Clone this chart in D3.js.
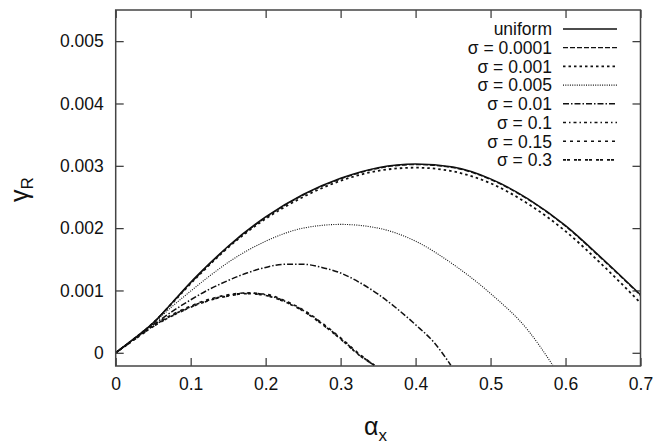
<!DOCTYPE html>
<html><head><meta charset="utf-8">
<script src="https://cdn.jsdelivr.net/npm/d3@7"></script>
<style>body{margin:0;background:#fff}svg{display:block}text{font-family:"Liberation Sans",Arial,sans-serif;fill:#111}</style>
</head><body><div id="chart"></div>
<script>
// ---- data ----
const seriesNames = ["uniform","σ = 0.0001","σ = 0.001","σ = 0.005","σ = 0.01","σ = 0.1","σ = 0.15","σ = 0.3"];
const xTicks = [0,0.1,0.2,0.3,0.4,0.5,0.6,0.7];
const yTicks = [0,0.001,0.002,0.003,0.004,0.005];
const alphaTop = [0,0.025,0.05,0.075,0.1,0.125,0.15,0.2,0.25,0.3,0.35,0.4,0.45,0.5,0.55,0.6,0.65,0.7];
const uniform   = [0,0.00023,0.00048,0.0008,0.00113,0.00143,0.00171,0.00218,0.00254,0.0028,0.00297,0.00303,0.00298,0.00279,0.00247,0.00204,0.0015,0.00093];
const s0001     = [0,0.00023,0.00048,0.0008,0.00112,0.00142,0.0017,0.00217,0.00253,0.00279,0.00296,0.00302,0.00297,0.00278,0.00246,0.00203,0.00149,0.00092];
const s001      = [0,0.00023,0.00048,0.00079,0.00111,0.00141,0.00169,0.00215,0.0025,0.00276,0.00292,0.00297,0.00291,0.00272,0.00239,0.00195,0.0014,0.0008];
const alpha005  = [0,0.025,0.05,0.075,0.1,0.125,0.15,0.2,0.25,0.3,0.35,0.4,0.45,0.5,0.55,0.583];
const s005      = [0,0.00023,0.00047,0.00074,0.00099,0.00123,0.00145,0.00179,0.002,0.00206,0.002,0.00179,0.00142,0.00095,0.00036,-0.0002];
const alpha01   = [0,0.025,0.05,0.075,0.1,0.125,0.15,0.175,0.2,0.225,0.25,0.275,0.3,0.325,0.35,0.375,0.4,0.425,0.447];
const s01       = [0,0.00023,0.00045,0.00066,0.00085,0.00102,0.00116,0.00128,0.00137,0.00142,0.00142,0.00137,0.00128,0.00113,0.00094,0.00071,0.00045,0.00016,-0.0002];
const alphaLow  = [0,0.025,0.05,0.075,0.1,0.125,0.15,0.175,0.2,0.225,0.25,0.275,0.3,0.325,0.345];
const s1        = [0,0.00022,0.00043,0.0006,0.00074,0.00085,0.00092,0.00096,0.00093,0.00083,0.00068,0.00047,0.00023,-0.00003,-0.0002];
const s15       = [0,0.00022,0.00044,0.00061,0.00075,0.00086,0.00093,0.00096,0.00094,0.00084,0.00069,0.00048,0.00024,-0.00002,-0.0002];
const s3        = [0,0.00021,0.00042,0.00059,0.00073,0.00084,0.00091,0.00095,0.00092,0.00082,0.00067,0.00046,0.00022,-0.00004,-0.0002];

const W=656,H=448;
const m={l:115.7,r:640.5,t:10,b:366};
const x=d3.scaleLinear().domain([0,0.7]).range([m.l,m.r]);
const y=d3.scaleLinear().domain([-0.000212,0.0055]).range([m.b,m.t]);

const svg=d3.select("#chart").append("svg").attr("width",W).attr("height",H);

const dashes=[null,"5,2","2.5,3","1,1.3","6,2,1.5,2","3,3,1.5,3","3,4","3,1,3,4"];
const widths=[1.5,1.3,1.8,1.1,1.5,1.6,1.6,1.6];
const data=[
 [alphaTop,uniform],[alphaTop,s0001],[alphaTop,s001],[alpha005,s005],[alpha01,s01],[alphaLow,s1],[alphaLow,s15],[alphaLow,s3]
];

svg.append("clipPath").attr("id","clip").append("rect").attr("x",m.l).attr("y",m.t).attr("width",m.r-m.l).attr("height",m.b-m.t);

const line=d3.line().x(d=>x(d[0])).y(d=>y(d[1])).curve(d3.curveMonotoneX);
const g=svg.append("g").attr("clip-path","url(#clip)");
data.forEach((s,i)=>{
  const pts=s[0].map((a,j)=>[a,s[1][j]]);
  g.append("path").attr("d",line(pts)).attr("fill","none").attr("stroke","#111")
   .attr("stroke-width",widths[i]).attr("stroke-dasharray",dashes[i]);
});

// axes with inward ticks (mirrored)
const tl=8;
const ax=svg.append("g").attr("transform",`translate(0,${m.b})`).call(d3.axisBottom(x).tickValues(xTicks).tickSize(-tl).tickPadding(12).tickFormat(d=>d===0?"0":d3.format(".1f")(d)));
const axT=svg.append("g").attr("transform",`translate(0,${m.t})`).call(d3.axisTop(x).tickValues(xTicks).tickSize(-tl).tickFormat(""));
const ay=svg.append("g").attr("transform",`translate(${m.l},0)`).call(d3.axisLeft(y).tickValues(yTicks).tickSize(-tl).tickPadding(12).tickFormat(d=>d===0?"0":d3.format(".3f")(d)));
const ayR=svg.append("g").attr("transform",`translate(${m.r},0)`).call(d3.axisRight(y).tickValues(yTicks).tickSize(-tl).tickFormat(""));
[ax,axT,ay,ayR].forEach(a=>{a.select(".domain").remove();a.selectAll("line").attr("stroke","#333").attr("stroke-width",1.2);
  a.selectAll("text").attr("font-family","Liberation Sans, Arial, sans-serif").attr("font-size","17.5px").attr("fill","#111");});
ax.selectAll("text").attr("dy","0.71em");
svg.append("rect").attr("x",m.l).attr("y",m.t).attr("width",m.r-m.l).attr("height",m.b-m.t).attr("fill","none").attr("stroke","#444").attr("stroke-width",1.5);

// legend
const lg=svg.append("g");
seriesNames.forEach((n,i)=>{
  const yy=29+i*18.7;
  lg.append("text").attr("x",552).attr("y",yy).attr("dy","0.36em").attr("text-anchor","end").attr("font-size","17.5px").text(n);
  lg.append("line").attr("x1",563).attr("x2",617).attr("y1",yy).attr("y2",yy).attr("stroke","#111")
    .attr("stroke-width",widths[i]).attr("stroke-dasharray",dashes[i]);
});

// axis titles
const yl=svg.append("text").attr("transform","translate(28,202) rotate(-90)").attr("font-size","25px");
yl.append("tspan").text("γ");
yl.append("tspan").attr("font-size","17px").attr("dy","5").text("R");
const xl=svg.append("text").attr("x",364).attr("y",435).attr("font-size","25px");
xl.append("tspan").text("α");
xl.append("tspan").attr("font-size","17px").attr("dy","6").text("x");
</script></body></html>
